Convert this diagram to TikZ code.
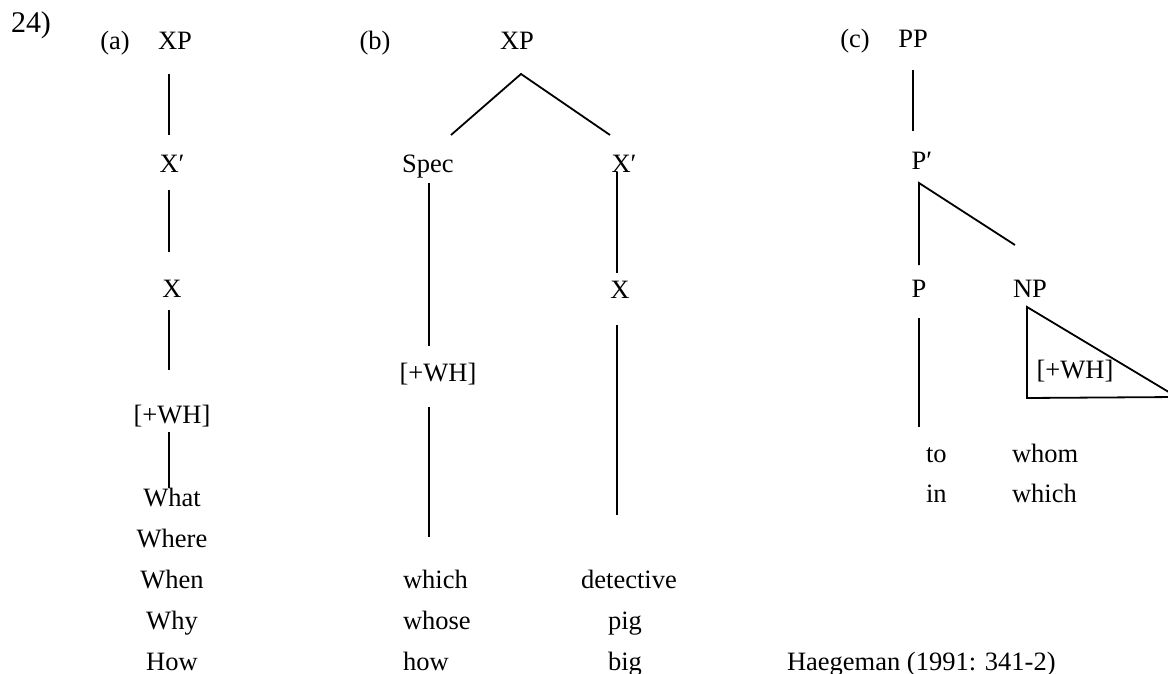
\documentclass[tikz,border=0pt]{standalone}
\usepackage{fontspec}
\setmainfont{Liberation Serif}
\begin{document}
\begin{tikzpicture}[x=1pt,y=-1pt,
  lbl/.style={inner sep=0pt,outer sep=0pt,anchor=base,font=\fontsize{26.5}{30}\selectfont},
  lblw/.style={lbl,anchor=base west},
  edge/.style={line width=1.8pt,line cap=butt}]
\useasboundingbox (0,0) rectangle (1168,674);
\clip (0,0) rectangle (1168,674);
% ---- number
\node[lblw,font=\fontsize{30}{34}\selectfont] (num) at (11,33) {24)};
% ---- (a)
\node[lbl] (la) at (115,50) {(a)};
\node[lbl] (axp) at (175,50) {XP};
\node[lbl] (axb) at (172,173) {X′};
\node[lbl] (ax) at (172,297) {X};
\node[lbl] (awh) at (172,423) {[+WH]};
\node[lbl] (w1) at (172,506) {What};
\node[lbl] (w2) at (172,547) {Where};
\node[lbl] (w3) at (172,588) {When};
\node[lbl] (w4) at (172,629) {Why};
\node[lbl] (w5) at (172,670) {How};
\coordinate (a1t) at (169,74);  \coordinate (a1b) at (169,135);
\coordinate (a2t) at (169,190); \coordinate (a2b) at (169,252);
\coordinate (a3t) at (169,310); \coordinate (a3b) at (169,370);
\coordinate (a4t) at (169,432); \coordinate (a4b) at (169,488);
\draw[edge] (a1t) -- (a1b);
\draw[edge] (a2t) -- (a2b);
\draw[edge] (a3t) -- (a3b);
\draw[edge] (a4t) -- (a4b);
% ---- (b)
\node[lbl] (lb) at (375,50) {(b)};
\node[lbl] (bxp) at (517,50) {XP};
\node[lbl] (bspec) at (428,173) {Spec};
\node[lbl] (bxb) at (624,173) {X′};
\node[lbl] (bwh) at (438,381) {[+WH]};
\node[lbl] (bx) at (620,298) {X};
\node[lblw] (b1) at (403,588) {which};
\node[lblw] (b2) at (403,629) {whose};
\node[lblw] (b3) at (403,670) {how};
\node[lbl] (c1) at (629,588) {detective};
\node[lblw] (c2) at (608,629) {pig};
\node[lblw] (c3) at (608,670) {big};
\coordinate (bap) at (521,74);
\coordinate (bl) at (451,135);
\coordinate (br) at (610,135);
\draw[edge] (bl) -- (bap) -- (br);
\coordinate (s1t) at (429,183); \coordinate (s1b) at (429,346);
\coordinate (s2t) at (429,407); \coordinate (s2b) at (429,537);
\draw[edge] (s1t) -- (s1b);
\draw[edge] (s2t) -- (s2b);
\coordinate (x1t) at (617,172); \coordinate (x1b) at (617,273);
\coordinate (x2t) at (617,325); \coordinate (x2b) at (617,515);
\draw[edge] (x1t) -- (x1b);
\draw[edge] (x2t) -- (x2b);
% ---- (c)
\node[lbl] (lc) at (855,48) {(c)};
\node[lbl] (cpp) at (913,48) {PP};
\node[lbl] (cpb) at (922,170) {P′};
\node[lbl] (cp) at (919,297) {P};
\node[lbl] (cnp) at (1030,297) {NP};
\node[lbl] (cwh) at (1075,378) {[+WH]};
\node[lblw] (d1) at (926,462) {to};
\node[lblw] (d2) at (1012,462) {whom};
\node[lblw] (d3) at (926,502) {in};
\node[lblw] (d4) at (1012,502) {which};
\node[lblw] (src) at (787,670) {Haegeman (1991: 341-2)};
\coordinate (p1t) at (913,70);  \coordinate (p1b) at (913,131);
\draw[edge] (p1t) -- (p1b);
\coordinate (pbr) at (919,183);
\coordinate (pv) at (919,265);
\coordinate (pd) at (1015,245);
\draw[edge] (pv) -- (pbr) -- (pd);
\coordinate (pl1) at (919,318); \coordinate (pl2) at (919,427);
\draw[edge] (pl1) -- (pl2);
\coordinate (tA) at (1027,307);
\coordinate (tB) at (1027,398);
\coordinate (tC) at (1177,397);
\draw[edge,line join=miter] (tA) -- (tB) -- (tC) -- cycle;
\end{tikzpicture}
\end{document}
